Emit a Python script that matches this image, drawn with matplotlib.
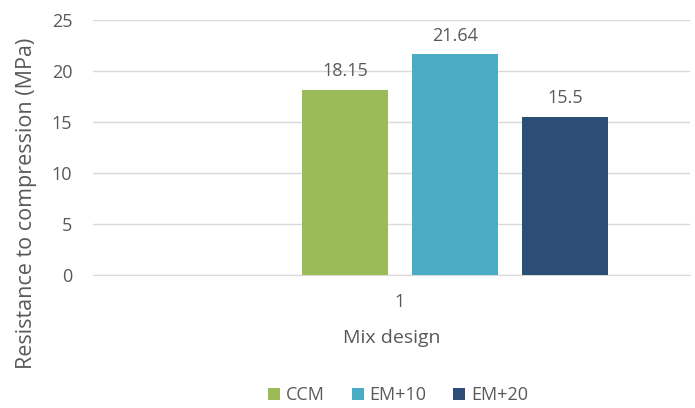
import matplotlib
matplotlib.use("Agg")
import matplotlib.pyplot as plt
import numpy as np

categories = ["1"]
series_names = ["CCM", "EM+10", "EM+20"]
values = [18.15, 21.64, 15.5]
labels = ["18.15", "21.64", "15.5"]
colors = ["#9BBB59", "#4BACC6", "#2C4D75"]

plt.rcParams['font.family'] = ['Open Sans', 'DejaVu Sans']
txt = "#595959"
fs = 13

fig = plt.figure(figsize=(6.95, 4.08), dpi=100)
ax = fig.add_axes([93/695, 1-275/408, (690-93)/695, (275-20)/408])

d = 0.2
w = 0.158
# four slots in the category, first one empty
slot_offsets = (np.arange(4) - 1.5) * d
for i, (name, v, lab, c) in enumerate(zip(series_names, values, labels, colors)):
    x = 1 + slot_offsets[i + 1]
    ax.bar(x, v, width=w, color=c, label=name, zorder=3)
    ax.annotate(lab, (x, v), xytext=(0, 7), textcoords="offset points",
                ha="center", va="bottom", fontsize=fs, color=txt)

ax.set_xlim(1 - 307/550, 1 + 290/550)
ax.set_ylim(0, 25)
ax.set_yticks(np.arange(0, 26, 5))
ax.set_xticks([1])
ax.set_xticklabels(categories)
ax.grid(axis="y", color="#D9D9D9", linewidth=1, zorder=0)
for s in ["top", "right", "left"]:
    ax.spines[s].set_visible(False)
ax.spines["bottom"].set_color("#D9D9D9")
ax.tick_params(axis="both", length=0, colors=txt, labelsize=fs)
ax.tick_params(axis="y", pad=15)
ax.tick_params(axis="x", pad=13)
ax.set_xlabel("Mix design", color=txt, fontsize=fs + 1, labelpad=13)
ax.set_ylabel("Resistance to compression (MPa)", color=txt, fontsize=15.5)
ax.yaxis.set_label_coords(37/695, 1-203/408, transform=fig.transFigure)

leg = ax.legend(loc="center", bbox_to_anchor=(398/695, 1-395/408), bbox_transform=fig.transFigure,
                ncol=3, frameon=False, fontsize=fs, handlelength=0.67, handleheight=0.67,
                columnspacing=1.5, handletextpad=0.3, borderaxespad=0, borderpad=0)
for t in leg.get_texts():
    t.set_color(txt)

fig.savefig("out.png", dpi=100)
